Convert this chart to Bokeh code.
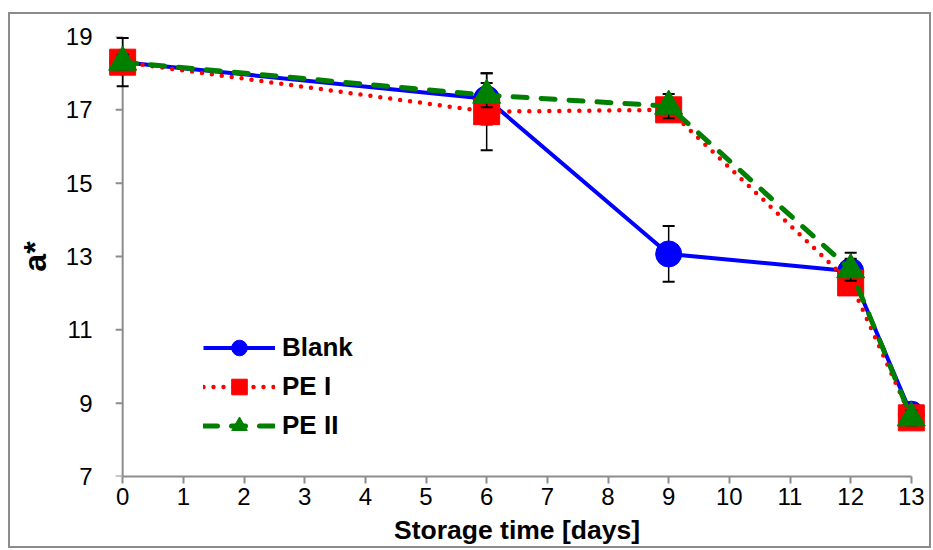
from math import pi
from bokeh.plotting import figure
from bokeh.models import Range1d, FixedTicker, Span, Legend, LegendItem
from bokeh.embed import file_html
from bokeh.resources import INLINE

# ---- data ----
days = [0, 6, 9, 12, 13]
blank = [18.3, 17.3, 13.07, 12.6, 8.7]
blank_err = [0.66, 0.7, 0.76, 0.5, 0.3]
pe1 = [18.3, 16.95, 17.0, 12.28, 8.6]
pe1_err = [0.2, 1.05, 0.2, 0.3, 0.2]
pe2 = [18.3, 17.4, 17.1, 12.64, 8.6]
pe2_err = [0.2, 0.33, 0.33, 0.3, 0.2]
x_ticks = list(range(0, 14))
y_ticks = [7, 9, 11, 13, 15, 17, 19]
names = ["Blank", "PE I", "PE II"]

GRAY = "#8c8c8c"
FONT = "Liberation Sans"

p = figure(width=923, height=536, x_range=Range1d(-0.25, 13.25), y_range=Range1d(7, 19),
           output_backend="svg", toolbar_location=None,
           min_border_left=97, min_border_right=7, min_border_top=22, min_border_bottom=74)
p.outline_line_color = None
p.grid.visible = False
p.background_fill_color = "white"
p.styles = {"border": "2px solid #8c8c8c", "margin-left": "8px", "margin-top": "12px"}

xa = p.xaxis[0]
xa.ticker = FixedTicker(ticks=x_ticks)
xa.bounds = (0, 13)
xa.axis_line_color = GRAY
xa.axis_line_width = 2
xa.major_tick_line_color = GRAY
xa.major_tick_line_width = 2
xa.major_tick_out = 7
xa.major_tick_in = 0
xa.minor_tick_line_color = None
xa.major_label_text_font = FONT
xa.major_label_text_font_size = "24px"
xa.major_label_text_color = "black"
xa.major_label_standoff = 4
xa.axis_label = "Storage time [days]"
xa.axis_label_text_font = FONT
xa.axis_label_text_font_style = "bold"
xa.axis_label_text_font_size = "26.5px"
xa.axis_label_text_color = "black"
xa.axis_label_standoff = 7

ya = p.yaxis[0]
ya.ticker = FixedTicker(ticks=y_ticks)
ya.axis_line_color = None
ya.major_tick_line_color = None
ya.minor_tick_line_color = None
ya.major_label_text_font = FONT
ya.major_label_text_font_size = "24px"
ya.major_label_text_color = "black"
ya.major_label_standoff = 9
ya.axis_label = "a*"
ya.axis_label_text_font = FONT
ya.axis_label_text_font_style = "bold"
ya.axis_label_text_font_size = "32px"
ya.axis_label_text_color = "black"
ya.axis_label_standoff = 10

# y axis line at x = 0 and outward ticks
vline = Span(location=0, dimension="height", line_color=GRAY, line_width=2, level="underlay")
p.add_layout(vline)
p.ray(x=[0] * len(y_ticks), y=y_ticks, length=7, length_units="screen", angle=pi,
      line_color=GRAY, line_width=2)

series = [
    (blank, blank_err, "#0000FF", dict(line_width=4), "circle", 26),
    (pe1, pe1_err, "#FF0000", dict(line_width=4.5, line_dash="0 10", line_cap="round"), "square", 26),
    (pe2, pe2_err, "#008000", dict(line_width=5, line_dash="14 14", line_cap="round"), "triangle", 28),
]

items = []
for name, (vals, errs, col, lkw, mk, sz) in zip(names, series):
    ln = p.line(days, vals, line_color=col, **lkw)
    up = [v + e for v, e in zip(vals, errs)]
    lo = [v - e for v, e in zip(vals, errs)]
    p.segment(x0=days, y0=lo, x1=days, y1=up, line_color="black", line_width=1.5)
    p.scatter(days, up, marker="dash", size=12, line_color="black", line_width=2)
    p.scatter(days, lo, marker="dash", size=12, line_color="black", line_width=2)
    m = p.scatter(days, vals, marker=mk, size=sz, fill_color=col, line_color=col)
    items.append(LegendItem(label=name, renderers=[ln, m]))

legend = Legend(items=items, location=(96, 31), glyph_width=72, glyph_height=39,
                label_height=39, spacing=0, padding=0, border_line_color=None,
                background_fill_alpha=0, label_text_font=FONT, label_text_font_size="26px",
                label_text_font_style="bold", label_standoff=7, label_text_color="black")
p.add_layout(legend)

open("out.html", "w").write(file_html(p, INLINE))
